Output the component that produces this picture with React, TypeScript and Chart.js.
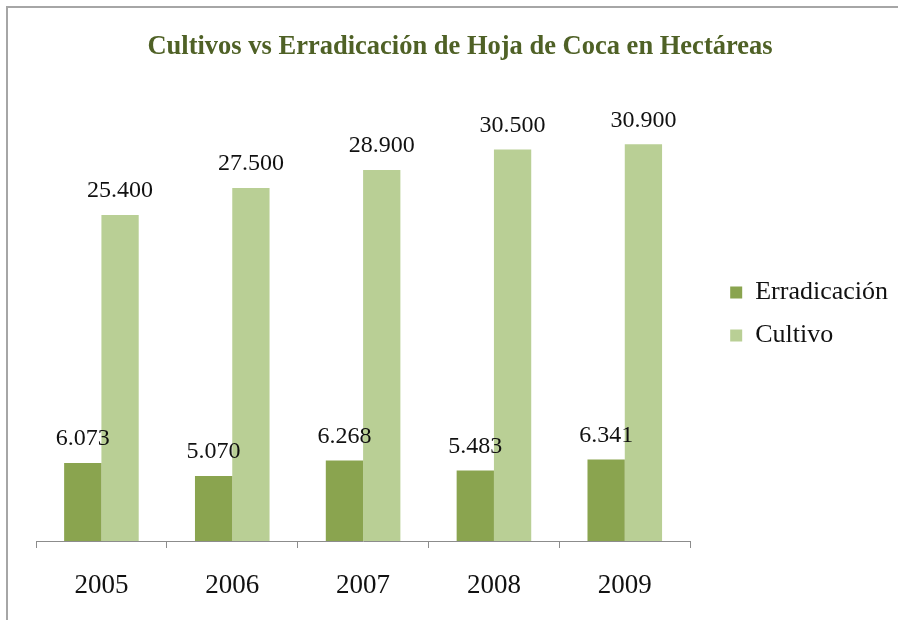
import React, { useEffect, useRef } from "react";
import { Chart, registerables } from "chart.js";

Chart.register(...registerables);

const categories = ["2005", "2006", "2007", "2008", "2009"];
const erradicacion = [6073, 5070, 6268, 5483, 6341];
const cultivo = [25400, 27500, 28900, 30500, 30900];
const seriesNames = ["Erradicación", "Cultivo"];
const titleText = "Cultivos vs Erradicación de Hoja de Coca en Hectáreas";

const SERIF = "'Liberation Serif', 'Times New Roman', serif";

function fmt(v: number): string {
  return String(v).replace(/\B(?=(\d{3})+(?!\d))/g, ".");
}

const valueLabels = {
  id: "valueLabels",
  afterDatasetsDraw(chart: any) {
    const ctx = chart.ctx;
    ctx.save();
    ctx.font = `24px ${SERIF}`;
    ctx.fillStyle = "#111";
    ctx.textAlign = "center";
    ctx.textBaseline = "middle";
    chart.data.datasets.forEach((ds: any, di: number) => {
      const meta = chart.getDatasetMeta(di);
      meta.data.forEach((el: any, i: number) => {
        ctx.fillText(fmt(ds.data[i]), el.x, el.y - 24);
      });
    });
    ctx.restore();
  },
};

export default function App() {
  const ref = useRef<HTMLCanvasElement>(null);
  useEffect(() => {
    if (!ref.current) return;
    const chart = new Chart(ref.current, {
      type: "bar",
      data: {
        labels: categories,
        datasets: [
          {
            label: seriesNames[0],
            data: erradicacion,
            backgroundColor: "#8aa44f",
            categoryPercentage: 0.57,
            barPercentage: 1.0,
          },
          {
            label: seriesNames[1],
            data: cultivo,
            backgroundColor: "#b9cf95",
            categoryPercentage: 0.57,
            barPercentage: 1.0,
          },
        ],
      },
      options: {
        responsive: false,
        animation: false,
        devicePixelRatio: 1,
        layout: { padding: { left: 14, right: 0, top: 0, bottom: 0 } },
        scales: {
          x: {
            offset: true,
            grid: {
              display: true,
              offset: true,
              drawOnChartArea: false,
              drawTicks: true,
              tickLength: 7,
              color: "#8c8c8c",
            },
            border: { display: true, color: "#8c8c8c", width: 1 },
            ticks: {
              font: { family: SERIF, size: 27 },
              color: "#111",
              padding: 22,
            },
            afterFit(scale: any) {
              scale.height = 79;
              scale.paddingLeft = 28;
            },
          },
          y: {
            display: false,
            min: 0,
            max: 36000,
          },
          yRight: {
            type: "linear",
            position: "right",
            min: 0,
            max: 1,
            ticks: { display: false },
            grid: { display: false },
            border: { display: false },
            afterFit(scale: any) {
              scale.width = 23;
            },
          },
        },
        plugins: {
          title: {
            display: true,
            text: titleText,
            color: "#4f6126",
            font: { family: SERIF, size: 26.5, weight: "bold" },
            padding: { top: 23, bottom: 16 },
          },
          legend: {
            position: "right",
            labels: {
              font: { family: SERIF, size: 26 },
              color: "#111",
              boxWidth: 12,
              boxHeight: 12,
              padding: 17,
            },
          },
          tooltip: { enabled: false },
        },
      },
      plugins: [valueLabels],
    });
    return () => chart.destroy();
  }, []);

  return (
    <div
      style={{
        position: "absolute",
        left: 6,
        top: 6,
        width: 892,
        height: 614,
        borderTop: "2px solid #a6a6a6",
        borderLeft: "2px solid #a6a6a6",
        boxSizing: "border-box",
        background: "#fff",
        overflow: "hidden",
      }}
    >
      <canvas ref={ref} width={890} height={612} style={{ display: "block", width: 890, height: 612 }} />
    </div>
  );
}
